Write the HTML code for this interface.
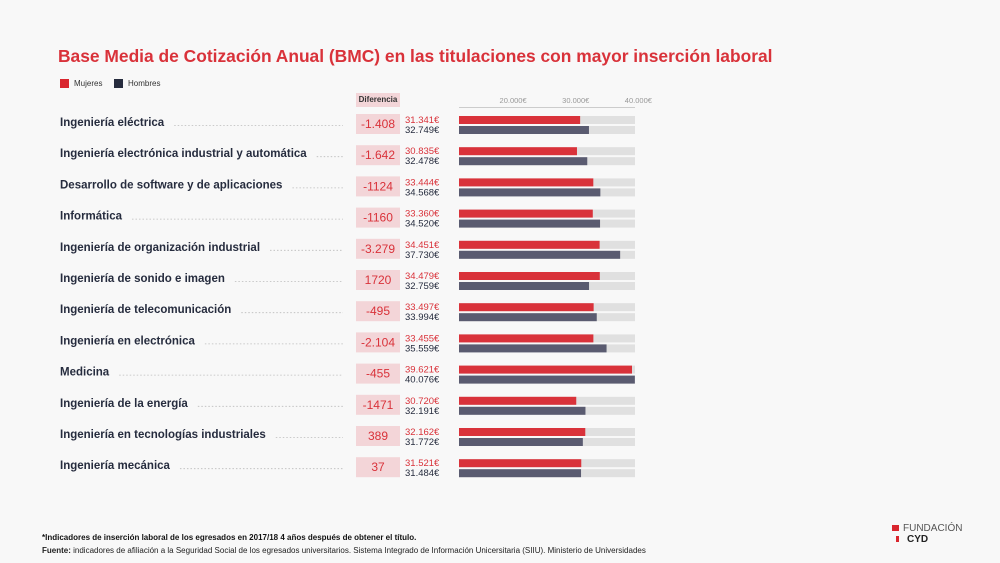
<!DOCTYPE html>
<html><head><meta charset="utf-8"><style>
body{margin:0;background:#f8f8f8;font-family:"Liberation Sans",sans-serif;}
#root{position:relative;width:1000px;height:563px;overflow:hidden;background:#f8f8f8;}
.abs{position:absolute;white-space:nowrap;}
</style></head><body>
<div id="root">
<div class="abs" style="left:58px;top:46px;font-size:17.4px;font-weight:bold;color:#d9323a;">Base Media de Cotización Anual (BMC) en las titulaciones con mayor inserción laboral</div>
<div class="abs" style="left:60px;top:79px;font-size:8px;color:#333;"><span style="display:inline-block;width:9px;height:9px;background:#d9262e;vertical-align:-2px;margin-right:5px"></span>Mujeres</div>
<div class="abs" style="left:114px;top:79px;font-size:8px;color:#333;"><span style="display:inline-block;width:9px;height:9px;background:#262c3e;vertical-align:-2px;margin-right:5px"></span>Hombres</div>
<div class="abs" style="left:356px;top:93px;width:44px;height:14px;background:#f3d5d8;font-size:8px;font-weight:bold;color:#333;line-height:14px;text-align:center">Diferencia</div>
<svg id="chart" width="1000" height="563" style="position:absolute;left:0;top:0"></svg>
<div class="abs" style="left:42px;top:533px;font-size:8px;font-weight:bold;color:#111;">*Indicadores de inserción laboral de los egresados en 2017/18 4 años después de obtener el título.</div>
<div class="abs" style="left:42px;top:546px;font-size:8px;color:#222;"><b>Fuente:</b> indicadores de afiliación a la Seguridad Social de los egresados universitarios. Sistema Integrado de Información Unicersitaria (SIIU). Ministerio de Universidades</div>
<div class="abs" style="left:892px;top:523px;font-size:10px;color:#555;line-height:11px;"><span style="display:inline-block;width:7px;height:6px;background:#d9262e;margin-right:4px"></span>FUNDACIÓN<br><span style="display:inline-block;width:3px;height:6px;background:#d9262e;margin-right:8px;margin-left:4px"></span><b style="color:#222">CYD</b></div>
</div>
<script>
const categories=["Ingeniería eléctrica","Ingeniería electrónica industrial y automática","Desarrollo de software y de aplicaciones","Informática","Ingeniería de organización industrial","Ingeniería de sonido e imagen","Ingeniería de telecomunicación","Ingeniería en electrónica","Medicina","Ingeniería de la energía","Ingeniería en tecnologías industriales","Ingeniería mecánica"];
const mujeres=[31341,30835,33444,33360,34451,34479,33497,33455,39621,30720,32162,31521];
const hombres=[32749,32478,34568,34520,37730,32759,33994,35559,40076,32191,31772,31484];
const diffLabels=["-1.408","-1.642","-1124","-1160","-3.279","1720","-495","-2.104","-455","-1471","389","37"];
const tickValues=[20000,30000,40000];
const tickLabels=["20.000€","30.000€","40.000€"];
const NS="http://www.w3.org/2000/svg";
const svg=document.getElementById('chart');
const x0=459,x1=635,dMin=12000,dMax=40100;
function xs(v){return Math.min(x1,x0+(v-dMin)/(dMax-dMin)*(x1-x0));}
function rowY(i){return 122+i*31.2;}
function fmt(v){return v.toString().replace(/\B(?=(\d{3})+(?!\d))/g,'.')+'€';}
function mk(tag,attrs,parent){const e=document.createElementNS(NS,tag);for(const k in attrs)e.setAttribute(k,attrs[k]);(parent||svg).appendChild(e);return e;}
const axl=mk('line',{x1:x0,x2:x1,y1:107.5,y2:107.5,stroke:'#ccc','stroke-width':1});


tickValues.forEach((v,i)=>{const t=mk('text',{x:xs(v)+4,y:103,'text-anchor':'middle','font-size':7.5,fill:'#999','font-family':'Liberation Sans'});t.textContent=tickLabels[i];

});
categories.forEach((c,i)=>{const y=rowY(i);
const lab=mk('text',{x:60,y:y+4,'font-size':11.5,'font-weight':'bold',fill:'#262c3e','font-family':'Liberation Sans'});lab.textContent=c;


const w=lab.getComputedTextLength?lab.getComputedTextLength():c.length*6;
const ld=mk('line',{x1:60+w+10,x2:343,y1:y+3.5,y2:y+3.5,stroke:'#bbb','stroke-width':0.8,'stroke-dasharray':'1.5,2'});


const db=mk('rect',{x:356,y:y-8,width:44,height:20,fill:'#f3d5d8'});


const dt=mk('text',{x:378,y:y+6,'text-anchor':'middle','font-size':12,fill:'#d9323a','font-family':'Liberation Sans'});dt.textContent=diffLabels[i];


const mv=mk('text',{x:405,y:y+1,'font-size':9.5,fill:'#d9323a','font-family':'Liberation Sans'});mv.textContent=fmt(mujeres[i]);


const hv=mk('text',{x:405,y:y+11,'font-size':9.5,fill:'#262c3e','font-family':'Liberation Sans'});hv.textContent=fmt(hombres[i]);


[[y-6,mujeres[i],'#d9323a','bar-mujeres'],[y+4,hombres[i],'#5a5b70','bar-hombres']].forEach(([by,v,col,nm])=>{
const tr=mk('rect',{x:x0,y:by,width:x1-x0,height:8,fill:'#e0e0e0'});


const b=mk('rect',{x:x0,y:by,width:Math.max(0,xs(v)-x0),height:8,fill:col});

});
});
</script>
</body></html>
